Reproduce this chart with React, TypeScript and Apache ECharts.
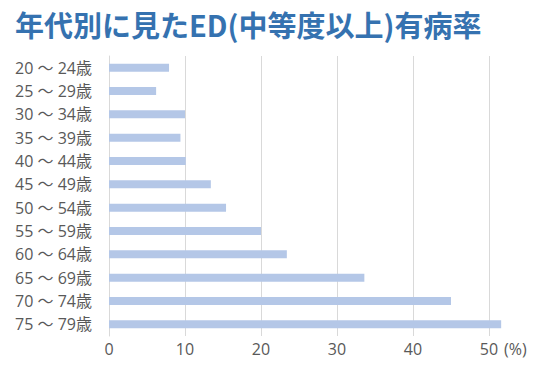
import React, { useEffect, useRef } from "react";
import * as echarts from "echarts";

const categories = [
  "20 ～ 24歳",
  "25 ～ 29歳",
  "30 ～ 34歳",
  "35 ～ 39歳",
  "40 ～ 44歳",
  "45 ～ 49歳",
  "50 ～ 54歳",
  "55 ～ 59歳",
  "60 ～ 64歳",
  "65 ～ 69歳",
  "70 ～ 74歳",
  "75 ～ 79歳",
];
const prevalence = [7.9, 6.2, 10.0, 9.4, 10.1, 13.4, 15.4, 20.0, 23.4, 33.6, 45.0, 51.6];
const titleText = "年代別に見たED(中等度以上)有病率";
const unitLabel = "(%)";

export default function App() {
  const ref = useRef<HTMLDivElement>(null);
  useEffect(() => {
    if (!ref.current) return;
    const chart = echarts.init(ref.current, null, { renderer: "svg" });
    const labelFont = "'Open Sans', 'Noto Sans CJK JP', sans-serif";
    chart.setOption({
      animation: false,
      backgroundColor: "#ffffff",
      title: {
        text: titleText,
        left: 10,
        top: 4,
        textStyle: {
          fontFamily: "Noto Sans CJK JP",
          fontWeight: "bold",
          fontSize: 29,
          color: "#3572b0",
        },
      },
      grid: { left: 109, right: 51, top: 56, bottom: 35 },
      xAxis: {
        type: "value",
        min: 0,
        max: 50,
        interval: 10,
        name: unitLabel,
        nameLocation: "end",
        nameGap: 8,
        nameTextStyle: {
          fontFamily: labelFont,
          fontSize: 16,
          color: "#595959",
          verticalAlign: "top",
          padding: [5, 0, 0, 0],
        },
        axisLine: { show: false },
        axisTick: { show: false },
        axisLabel: {
          fontFamily: labelFont,
          fontSize: 16,
          color: "#595959",
          margin: 5,
        },
        splitLine: { show: true, lineStyle: { color: "#d9d9d9", width: 1 } },
      },
      yAxis: {
        type: "category",
        data: categories,
        inverse: true,
        axisLine: { show: true, lineStyle: { color: "#d9d9d9", width: 1 } },
        axisTick: { show: false },
        axisLabel: {
          fontFamily: labelFont,
          fontSize: 16,
          color: "#595959",
          margin: 17,
        },
      },
      series: [
        {
          type: "bar",
          data: prevalence,
          barWidth: 8,
          clip: false,
          itemStyle: { color: "#b4c7e7" },
        },
      ],
    });
    return () => chart.dispose();
  }, []);
  return <div ref={ref} style={{ width: 540, height: 371, position: "absolute", left: 0, top: 0 }} />;
}
